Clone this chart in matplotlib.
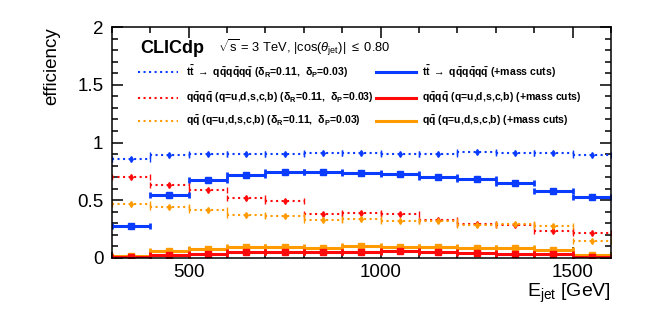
import numpy as np
import matplotlib
matplotlib.use('Agg')
import matplotlib.pyplot as plt
from matplotlib.ticker import MultipleLocator

plt.rcParams['font.family'] = ['Liberation Sans', 'DejaVu Sans']
plt.rcParams['mathtext.fontset'] = 'custom'
plt.rcParams['mathtext.rm'] = 'Liberation Sans'
plt.rcParams['mathtext.it'] = 'Liberation Sans:italic'
plt.rcParams['mathtext.bf'] = 'Liberation Sans:bold'

# jet energy bins [GeV]
bin_edges = [300, 400, 500, 600, 700, 800, 900, 1000, 1100, 1200, 1300, 1400, 1500, 1600]

# efficiencies
tt_delta = [0.859, 0.894, 0.902, 0.902, 0.902, 0.911, 0.911, 0.902, 0.902, 0.917, 0.911, 0.908, 0.888]
tt_mass = [0.275, 0.543, 0.672, 0.716, 0.744, 0.742, 0.740, 0.725, 0.705, 0.684, 0.649, 0.582, 0.528]
qqqq_delta = [0.700, 0.630, 0.585, 0.520, 0.495, 0.378, 0.390, 0.382, 0.333, 0.295, 0.290, 0.238, 0.218]
qqqq_mass = [0.008, 0.026, 0.037, 0.048, 0.052, 0.050, 0.050, 0.060, 0.050, 0.046, 0.032, 0.032, 0.012]
qq_delta = [0.465, 0.443, 0.412, 0.371, 0.360, 0.330, 0.335, 0.322, 0.322, 0.290, 0.293, 0.275, 0.150]
qq_mass = [0.020, 0.058, 0.078, 0.092, 0.092, 0.090, 0.104, 0.094, 0.098, 0.090, 0.090, 0.070, 0.028]

blue = '#0a3cff'
red = '#ff0a0a'
orange = '#ff9a00'

edges = np.array(bin_edges)
centers = 0.5 * (edges[1:] + edges[:-1])
half = 0.5 * np.diff(edges)


def draw_dotted(ax, vals, color):
    eb = ax.errorbar(centers, vals, xerr=half, fmt='none', ecolor=color,
                     elinewidth=1.5, capsize=2, capthick=1.0)
    eb[2][0].set_linestyle(':')
    ax.plot(centers, vals, ls='none', marker='d', ms=3, color=color)


def draw_solid(ax, vals, color):
    ax.errorbar(centers, vals, xerr=half, fmt='s', color=color, ms=4.5,
                elinewidth=2.2, capsize=2.5, capthick=2.0)


fig = plt.figure(figsize=(6.64, 3.15), dpi=100)
ax = fig.add_axes([0.1682, 0.181, 0.7520, 0.733])

draw_dotted(ax, tt_delta, blue)
draw_dotted(ax, qqqq_delta, red)
draw_dotted(ax, qq_delta, orange)
draw_solid(ax, tt_mass, blue)
draw_solid(ax, qq_mass, orange)
draw_solid(ax, qqqq_mass, red)

ax.set_xlim(300, 1600)
ax.set_ylim(0, 2)
ax.xaxis.set_major_locator(MultipleLocator(500))
ax.xaxis.set_minor_locator(MultipleLocator(100))
ax.yaxis.set_major_locator(MultipleLocator(0.5))
ax.yaxis.set_minor_locator(MultipleLocator(0.1))
ax.tick_params(which='both', direction='in', top=True, right=True, width=1.1, labelsize=13.5)
ax.tick_params(which='major', length=8)
ax.tick_params(which='minor', length=4.5)
ax.tick_params(axis='y', pad=6)
ax.tick_params(axis='x', pad=4)
ax.set_yticks([0, 0.5, 1, 1.5, 2])
ax.set_yticklabels(['0', '0.5', '1', '1.5', '2'])
for s in ax.spines.values():
    s.set_linewidth(1.1)

ax.set_ylabel('efficiency', fontsize=13.5, loc='top', labelpad=12)
ax.set_xlabel(r'E$_{\mathrm{jet}}$ [GeV]', fontsize=14, loc='right', labelpad=1)

# header
ax.text(0.0567, 0.909, 'CLICdp', transform=ax.transAxes, fontsize=13,
        fontweight='bold', va='center', ha='left')
ax.text(0.213, 0.909, r'$\sqrt{\mathrm{s}}$ = 3 TeV, |cos($\theta_{\mathrm{jet}}$)| $\leq$ 0.80',
        transform=ax.transAxes, fontsize=9.3, va='center', ha='left')

# legend, drawn by hand in ROOT style
leg_left = [
    (r'$\mathbf{t\bar{t}\ \rightarrow\ q\bar{q}q\bar{q}q\bar{q}}$ ($\mathbf{\delta_R}$=0.11,  $\mathbf{\delta_P}$=0.03)', blue),
    (r'$\mathbf{q\bar{q}q\bar{q}}$ (q=u,d,s,c,b) ($\mathbf{\delta_R}$=0.11,  $\mathbf{\delta_P}$=0.03)', red),
    (r'$\mathbf{q\bar{q}}$ (q=u,d,s,c,b) ($\mathbf{\delta_R}$=0.11,  $\mathbf{\delta_P}$=0.03)', orange),
]
leg_right = [
    (r'$\mathbf{t\bar{t}\ \rightarrow\ q\bar{q}q\bar{q}q\bar{q}}$ (+mass cuts)', blue),
    (r'$\mathbf{q\bar{q}q\bar{q}}$ (q=u,d,s,c,b) (+mass cuts)', red),
    (r'$\mathbf{q\bar{q}}$ (q=u,d,s,c,b) (+mass cuts)', orange),
]
rows = [0.805, 0.693, 0.593]
for (lab, col), y in zip(leg_left, rows):
    ax.plot([0.0527, 0.1329], [y, y], transform=ax.transAxes, color=col, lw=1.5, ls=':')
    ax.text(0.149, y, lab, transform=ax.transAxes, fontsize=7.6, fontweight='bold',
            va='center', ha='left')
for (lab, col), y in zip(leg_right, rows):
    ax.plot([0.530, 0.610], [y, y], transform=ax.transAxes, color=col, lw=2.2)
    ax.text(0.622, y, lab, transform=ax.transAxes, fontsize=7.6, fontweight='bold',
            va='center', ha='left')

fig.savefig('out.png', dpi=100)
